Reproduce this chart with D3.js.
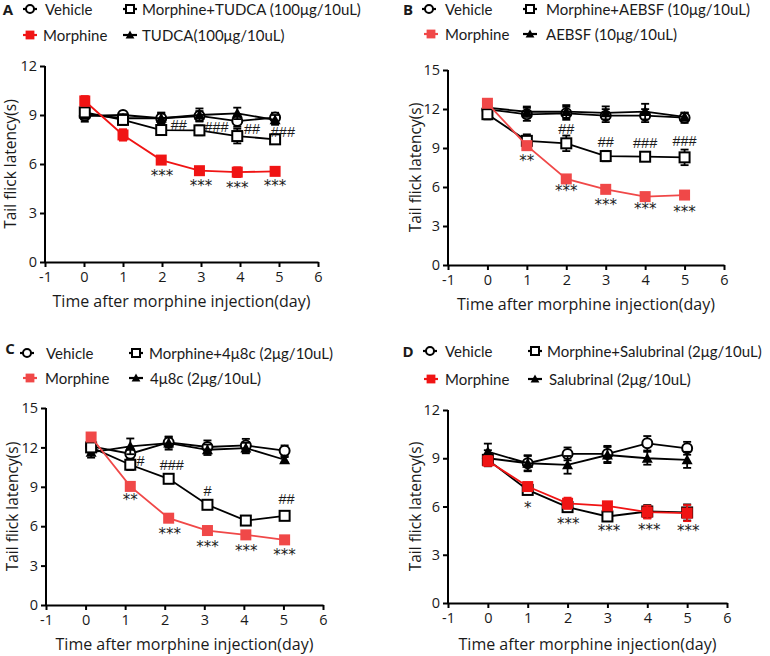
<!DOCTYPE html>
<html>
<head>
<meta charset="utf-8">
<script src="https://cdn.jsdelivr.net/npm/d3@7"></script>
<style>
  body { margin: 0; background: #fff; }
  svg text { font-family: "Open Sans", "Liberation Sans", Arial, sans-serif; fill: #1a1a1a; }
</style>
</head>
<body>
<script>
// ---------------- DATA ----------------
const xTickValues = [-1, 0, 1, 2, 3, 4, 5, 6];

// Panel A (TUDCA)
const A_days = [0.02, 1, 1.98, 2.96, 3.93, 4.9];
const A_yTicks = [0, 3, 6, 9, 12];
const A_vehicle = [8.94, 9.0, 8.8, 8.94, 8.63, 8.84];
const A_vehicleErr = [0.35, 0.2, 0.35, 0.3, 0.35, 0.3];
const A_morphine = [9.86, 7.78, 6.24, 5.59, 5.5, 5.55];
const A_morphineErr = [0.3, 0.35, 0.15, 0.15, 0.3, 0.15];
const A_combo = [9.16, 8.7, 8.08, 8.06, 7.71, 7.51];
const A_comboErr = [0.3, 0.3, 0.3, 0.3, 0.45, 0.15];
const A_drug = [9.06, 8.8, 8.8, 9.0, 9.1, 8.7];
const A_drugErr = [0.3, 0.25, 0.3, 0.4, 0.35, 0.3];
const A_stars = [[2, 5.33, "***"], [3, 4.71, "***"], [3.93, 4.61, "***"], [4.9, 4.71, "***"]];
const A_hashes = [[2.43, 8.39, "##"], [3.4, 8.24, "###"], [4.31, 8.12, "##"], [5.1, 7.98, "###"]];
const A_labels = ["Vehicle", "Morphine+TUDCA (100μg/10uL)", "Morphine", "TUDCA(100μg/10uL)"];

// Panel B (AEBSF)
const B_days = [0, 1, 2, 3, 4, 5];
const B_yTicks = [0, 3, 6, 9, 12, 15];
const B_vehicle = [11.97, 11.59, 11.67, 11.49, 11.49, 11.33];
const B_vehicleErr = [0.4, 0.5, 0.5, 0.5, 0.5, 0.4];
const B_morphine = [12.44, 9.18, 6.62, 5.82, 5.26, 5.38];
const B_morphineErr = [0.2, 0.3, 0.2, 0.2, 0.15, 0.15];
const B_combo = [11.6, 9.55, 9.36, 8.38, 8.33, 8.28];
const B_comboErr = [0.4, 0.5, 0.6, 0.4, 0.2, 0.6];
const B_drug = [12.1, 11.79, 11.8, 11.7, 11.8, 11.4];
const B_drugErr = [0.3, 0.4, 0.5, 0.5, 0.6, 0.3];
const B_stars = [[1, 8.08, "**"], [2, 5.77, "***"], [3, 4.69, "***"], [4, 4.36, "***"], [5, 4.18, "***"]];
const B_hashes = [[2, 10.5, "##"], [3, 9.5, "##"], [4, 9.36, "###"], [5, 9.56, "###"]];
const B_labels = ["Vehicle", "Morphine+AEBSF (10μg/10uL)", "Morphine", "AEBSF (10μg/10uL)"];

// Panel C (4μ8c)
const C_days = [0.14, 1.13, 2.1, 3.08, 4.05, 5.03];
const C_yTicks = [0, 3, 6, 9, 12, 15];
const C_vehicle = [12.08, 11.52, 12.38, 12.03, 12.15, 11.75];
const C_vehicleErr = [0.4, 0.4, 0.4, 0.5, 0.5, 0.4];
const C_morphine = [12.79, 9.03, 6.61, 5.67, 5.34, 4.96];
const C_morphineErr = [0.2, 0.2, 0.15, 0.15, 0.15, 0.15];
const C_combo = [12.0, 10.68, 9.61, 7.63, 6.43, 6.79];
const C_comboErr = [0.4, 0.4, 0.3, 0.2, 0.2, 0.2];
const C_drug = [11.62, 12.08, 12.33, 11.82, 11.95, 11.06];
const C_drugErr = [0.4, 0.6, 0.5, 0.4, 0.4, 0.2];
const C_stars = [[1.13, 8.08, "**"], [2.13, 5.47, "***"], [3.08, 4.53, "***"], [4.06, 4.2, "***"], [5.03, 3.89, "***"]];
const C_hashes = [[1.39, 10.98, "#"], [2.18, 10.68, "###"], [3.08, 8.69, "#"], [5.08, 8.08, "##"]];
const C_labels = ["Vehicle", "Morphine+4μ8c (2μg/10uL)", "Morphine", "4μ8c (2μg/10uL)"];

// Panel D (Salubrinal)
const D_days = [0, 1, 2, 3, 4, 5];
const D_yTicks = [0, 3, 6, 9, 12];
const D_vehicle = [9.0, 8.69, 9.27, 9.27, 9.93, 9.62];
const D_vehicleErr = [0.5, 0.45, 0.4, 0.5, 0.45, 0.4];
const D_morphine = [8.83, 7.24, 6.2, 6.04, 5.65, 5.59];
const D_morphineErr = [0.3, 0.2, 0.35, 0.2, 0.4, 0.5];
const D_combo = [8.9, 7.03, 5.96, 5.38, 5.69, 5.63];
const D_comboErr = [0.3, 0.2, 0.2, 0.2, 0.4, 0.5];
const D_drug = [9.41, 8.69, 8.59, 9.2, 9.0, 8.9];
const D_drugErr = [0.5, 0.5, 0.55, 0.5, 0.4, 0.5];
const D_stars = [[1, 6.0, "*"], [2.02, 4.97, "***"], [3.04, 4.55, "***"], [4.05, 4.61, "***"], [5.03, 4.51, "***"]];
const D_hashes = [];
const D_labels = ["Vehicle", "Morphine+Salubrinal (2μg/10uL)", "Morphine", "Salubrinal (2μg/10uL)"];

// ---------------- LAYOUT ----------------
// legend item order: [Vehicle, Morphine+drug, Morphine, drug]
const panels = [
  { letter: "A", days: A_days, yTicks: A_yTicks, vehicle: A_vehicle, vehicleErr: A_vehicleErr, morphine: A_morphine, morphineErr: A_morphineErr,
    combo: A_combo, comboErr: A_comboErr, drug: A_drug, drugErr: A_drugErr, stars: A_stars, hashes: A_hashes, labels: A_labels,
    left: 45, right: 318, top: 66, bottom: 262, red: "#f01414",
    letterPos: [8, 9], rows: [9, 35], symX: [30, 130, 30, 130], txtX: [45, 142, 43, 142], ytitleX: 10, xtitleY: 307 },
  { letter: "B", days: B_days, yTicks: B_yTicks, vehicle: B_vehicle, vehicleErr: B_vehicleErr, morphine: B_morphine, morphineErr: B_morphineErr,
    combo: B_combo, comboErr: B_comboErr, drug: B_drug, drugErr: B_drugErr, stars: B_stars, hashes: B_hashes, labels: B_labels,
    left: 448, right: 724, top: 70, bottom: 265, red: "#f04848",
    letterPos: [408, 9], rows: [9, 34], symX: [429, 530, 431, 530], txtX: [445, 546, 445, 546], ytitleX: 415, xtitleY: 310 },
  { letter: "C", days: C_days, yTicks: C_yTicks, vehicle: C_vehicle, vehicleErr: C_vehicleErr, morphine: C_morphine, morphineErr: C_morphineErr,
    combo: C_combo, comboErr: C_comboErr, drug: C_drug, drugErr: C_drugErr, stars: C_stars, hashes: C_hashes, labels: C_labels,
    left: 46, right: 323, top: 408, bottom: 605, red: "#f04848",
    letterPos: [10, 348], rows: [353, 378], symX: [27, 136, 30, 136], txtX: [46, 149, 45, 150], ytitleX: 12, xtitleY: 650 },
  { letter: "D", days: D_days, yTicks: D_yTicks, vehicle: D_vehicle, vehicleErr: D_vehicleErr, morphine: D_morphine, morphineErr: D_morphineErr,
    combo: D_combo, comboErr: D_comboErr, drug: D_drug, drugErr: D_drugErr, stars: D_stars, hashes: D_hashes, labels: D_labels,
    left: 448, right: 727, top: 410, bottom: 603, red: "#f01414",
    letterPos: [408, 351], rows: [351, 379], symX: [430, 535, 431, 535], txtX: [445, 547, 445, 549], ytitleX: 415, xtitleY: 650 }
];

const svg = d3.select("body").append("svg").attr("width", 770).attr("height", 656);

function drawMarker(g, type, cx, cy, color, small) {
  const s = small ? 0.8 : 1;
  if (type === "circle") {
    g.append("circle").attr("cx", cx).attr("cy", cy).attr("r", 5 * s)
      .attr("fill", "#fff").attr("stroke", "#000").attr("stroke-width", 2);
  } else if (type === "square") {
    const h = 5 * s;
    g.append("rect").attr("x", cx - h).attr("y", cy - h).attr("width", 2 * h).attr("height", 2 * h)
      .attr("fill", "#fff").attr("stroke", "#000").attr("stroke-width", 2);
  } else if (type === "tri") {
    const h = 5.5 * s;
    g.append("path").attr("d", `M${cx},${cy - h}L${cx + h},${cy + h * 0.8}L${cx - h},${cy + h * 0.8}Z`)
      .attr("fill", "#000");
  } else if (type === "red") {
    const h = 5.5 * s;
    g.append("rect").attr("x", cx - h).attr("y", cy - h).attr("width", 2 * h).attr("height", 2 * h)
      .attr("fill", color);
  }
}

function drawPanel(p) {
  const x = d3.scaleLinear().domain([-1, 6]).range([p.left, p.right]);
  const ymax = d3.max(p.yTicks);
  const y = d3.scaleLinear().domain([0, ymax]).range([p.bottom, p.top]);
  const g = svg.append("g");

  // axes
  const xAxis = g.append("g").attr("transform", `translate(0,${p.bottom})`)
    .call(d3.axisBottom(x).tickValues(xTickValues).tickSize(5).tickSizeOuter(0).tickPadding(5).tickFormat(d => String(d)));
  const yAxis = g.append("g").attr("transform", `translate(${p.left},0)`)
    .call(d3.axisLeft(y).tickValues(p.yTicks).tickSize(5).tickSizeOuter(0).tickPadding(3).tickFormat(d => String(d)));
  [xAxis, yAxis].forEach(a => {
    a.select(".domain").attr("stroke", "#000").attr("stroke-width", 2);
    a.selectAll(".tick line").attr("stroke", "#000").attr("stroke-width", 2);
    a.selectAll(".tick text").attr("font-size", 14.5).attr("fill", "#1a1a1a")
      .style("font-family", '"Open Sans", Arial, sans-serif');
  });
  yAxis.select(".domain").attr("d", `M0,${p.bottom + 1}V${p.top}`);

  // axis titles
  g.append("text").attr("x", (p.left + p.right) / 2).attr("y", p.xtitleY)
    .attr("text-anchor", "middle").attr("font-size", 16).text("Time after morphine injection(day)");
  g.append("text").attr("transform", `translate(${p.ytitleX},${(p.top + p.bottom) / 2}) rotate(-90)`)
    .attr("text-anchor", "middle").attr("dominant-baseline", "central").attr("font-size", 15.5)
    .text("Tail flick latency(s)");

  const series = [
    { vals: p.vehicle, err: p.vehicleErr, type: "circle", color: "#000" },
    { vals: p.drug, err: p.drugErr, type: "tri", color: "#000" },
    { vals: p.combo, err: p.comboErr, type: "square", color: "#000" },
    { vals: p.morphine, err: p.morphineErr, type: "red", color: p.red }
  ];
  const line = d3.line().x(d => x(d[0])).y(d => y(d[1]));

  series.forEach(s => {
    const pts = p.days.map((d, i) => [d, s.vals[i], s.err[i]]);
    const sg = g.append("g");
    sg.append("path").attr("d", line(pts)).attr("fill", "none")
      .attr("stroke", s.color).attr("stroke-width", 1.8);
    pts.forEach(pt => {
      const cx = x(pt[0]);
      const y1 = y(pt[1] + pt[2]), y2 = y(pt[1] - pt[2]);
      sg.append("line").attr("x1", cx).attr("x2", cx).attr("y1", y1).attr("y2", y2)
        .attr("stroke", s.color).attr("stroke-width", 1.8);
      [y1, y2].forEach(yy => sg.append("line").attr("x1", cx - 4).attr("x2", cx + 4)
        .attr("y1", yy).attr("y2", yy).attr("stroke", s.color).attr("stroke-width", 1.8));
    });
    pts.forEach(pt => drawMarker(sg, s.type, x(pt[0]), y(pt[1]), s.color));
  });

  // annotations
  p.stars.forEach(a => g.append("text").attr("x", x(a[0])).attr("y", y(a[1]) + 6)
    .attr("text-anchor", "middle").attr("font-size", 15)
    .style("font-family", '"DejaVu Sans", sans-serif').text(a[2]));
  p.hashes.forEach(a => g.append("text").attr("x", x(a[0])).attr("y", y(a[1]) + 5)
    .attr("text-anchor", "middle").attr("font-size", 14.5)
    .style("font-family", '"Liberation Sans", sans-serif').text(a[2]));

  // legend
  g.append("text").attr("x", p.letterPos[0]).attr("y", p.letterPos[1]).attr("dominant-baseline", "central")
    .attr("font-size", 15).attr("font-weight", "bold").attr("text-anchor", "middle").text(p.letter);
  const legTypes = ["circle", "square", "red", "tri"];
  const legColors = ["#000", "#000", p.red, "#000"];
  const legRow = [0, 0, 1, 1];
  legTypes.forEach((t, i) => {
    const cy = p.rows[legRow[i]];
    const cx = p.symX[i];
    g.append("line").attr("x1", cx - 7).attr("x2", cx + 7).attr("y1", cy).attr("y2", cy)
      .attr("stroke", legColors[i]).attr("stroke-width", 2.2);
    drawMarker(g, t, cx, cy, legColors[i], true);
    g.append("text").attr("x", p.txtX[i]).attr("y", cy).attr("dominant-baseline", "central")
      .attr("font-size", 15).style("font-family", 'Lato, "Open Sans", sans-serif').text(p.labels[i]);
  });
}

panels.forEach(drawPanel);
</script>
</body>
</html>
